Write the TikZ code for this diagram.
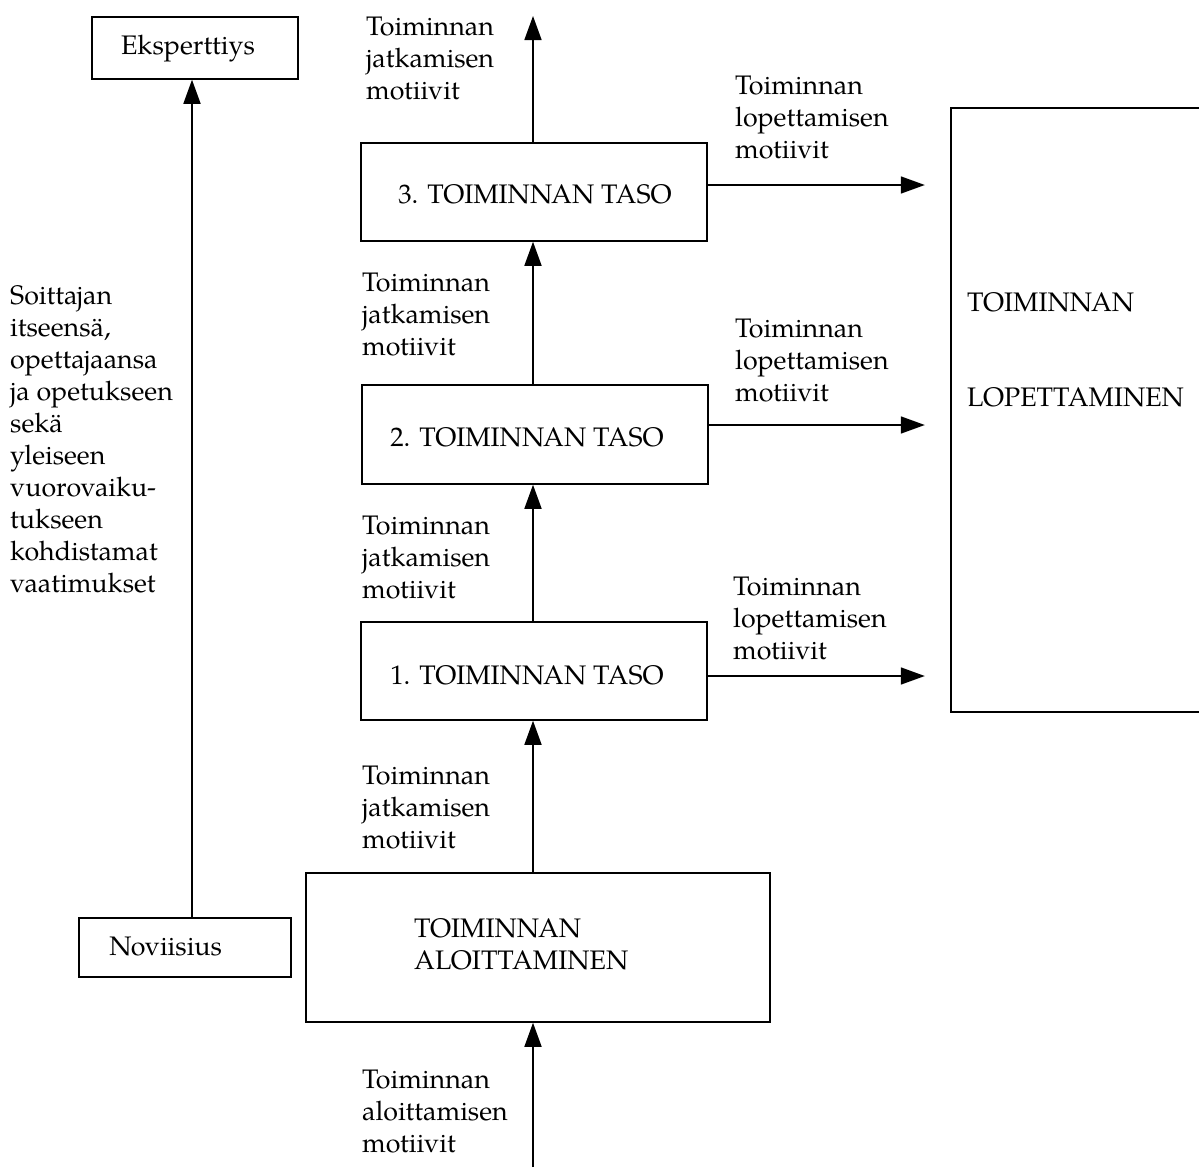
\documentclass[tikz,border=0pt]{standalone}
\usepackage{fontspec}
\setmainfont{TeX Gyre Pagella}
\usetikzlibrary{arrows.meta,calc}
\begin{document}
\begin{tikzpicture}[x=1pt,y=-1pt,
  every node/.style={font=\fontsize{26.8}{32}\selectfont},
  box/.style={draw,line width=1.5pt,rectangle,inner sep=0pt},
  txt/.style={anchor=north west,align=left,inner sep=0pt},
  arr/.style={line width=1.6pt,-{Triangle[length=24pt,width=17pt]}}]
\useasboundingbox (0,0) rectangle (1199,1167);

% boxes
\node[box,minimum width=206pt,minimum height=62pt] (eks) at (195,48) {};
\node[inner sep=0pt] (ekst) at (188,49) {Eksperttiys};
\node[box,minimum width=212pt,minimum height=59pt] (nov) at (185,947.5) {};
\node[anchor=west,inner sep=0pt] (novt) at ([xshift=31pt,yshift=1pt]nov.west) {Noviisius};
\node[box,minimum width=464pt,minimum height=149pt] (alo) at (538,947.5) {};
\node[txt] (alot) at (414,918) {TOIMINNAN\\ALOITTAMINEN};
\node[box,minimum width=346pt,minimum height=98pt] (t1) at (534,671) {};
\node[inner sep=0pt] (t1t) at (527,675) {1. TOIMINNAN TASO};
\node[box,minimum width=346pt,minimum height=99pt] (t2) at (535,434.5) {};
\node[inner sep=0pt] (t2t) at (527,437) {2. TOIMINNAN TASO};
\node[box,minimum width=346pt,minimum height=98pt] (t3) at (534,192) {};
\node[inner sep=0pt] (t3t) at (535,194) {3. TOIMINNAN TASO};
\node[rectangle,inner sep=0pt,minimum width=248pt,minimum height=604pt] (lop) at (1075,410) {};
\draw[line width=1.5pt] (lop.north east) -- (lop.north west) -- (lop.south west) -- (lop.south east);
\node[txt] (lopt) at (967,292) {TOIMINNAN\\[63pt]LOPETTAMINEN};

% guide coordinates
\coordinate (lx) at (192,0);
\coordinate (sp) at (533,0);
\coordinate (sbot) at (533,1167);
\coordinate (stop) at (533,16);
\coordinate (r1) at (0,676);
\coordinate (r2) at (0,425);
\coordinate (r3) at (0,185);

% connectors
\draw[arr] (nov.north -| lx) -- (eks.south -| lx);
\draw[arr] (sbot) -- (alo.south -| sp);
\draw[arr] (alo.north -| sp) -- (t1.south -| sp);
\draw[arr] (t1.north -| sp) -- (t2.south -| sp);
\draw[arr] (t2.north -| sp) -- (t3.south -| sp);
\draw[arr] (t3.north -| sp) -- (stop);
\draw[arr,shorten >=26pt] (t1.east |- r1) -- (lop.west |- r1);
\draw[arr,shorten >=26pt] (t2.east |- r2) -- (lop.west |- r2);
\draw[arr,shorten >=26pt] (t3.east |- r3) -- (lop.west |- r3);

% labels
\node[txt] (l0) at (362,1070) {Toiminnan\\aloittamisen\\motiivit};
\node[txt] (l1) at (362,766) {Toiminnan\\jatkamisen\\motiivit};
\node[txt] (l2) at (362,516) {Toiminnan\\jatkamisen\\motiivit};
\node[txt] (l3) at (362,273) {Toiminnan\\jatkamisen\\motiivit};
\node[txt] (l4) at (366,17) {Toiminnan\\jatkamisen\\motiivit};
\node[txt] (q3) at (735,76) {Toiminnan\\lopettamisen\\motiivit};
\node[txt] (q2) at (735,319) {Toiminnan\\lopettamisen\\motiivit};
\node[txt] (q1) at (733,577) {Toiminnan\\lopettamisen\\motiivit};
\node[txt] (req) at (10,285) {Soittajan\\itseensä,\\opettajaansa\\ja opetukseen\\sekä\\yleiseen\\vuorovaiku-\\tukseen\\kohdistamat\\vaatimukset};
\end{tikzpicture}
\end{document}
